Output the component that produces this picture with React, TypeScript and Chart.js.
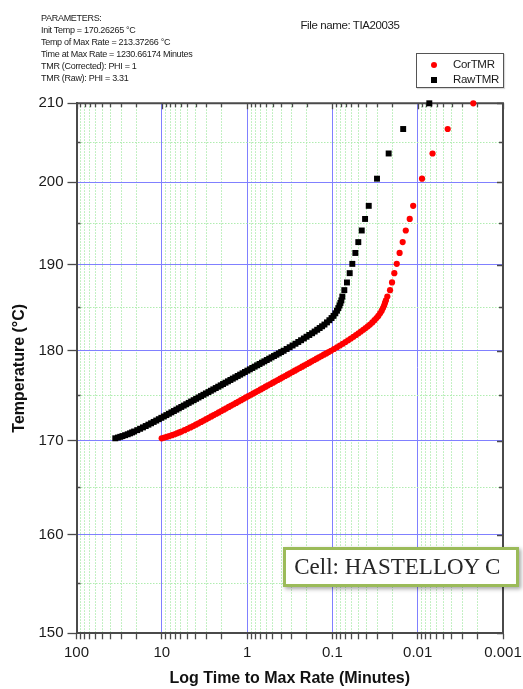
import React, { useEffect, useRef } from 'react';
import { Chart, registerables } from 'chart.js';

Chart.register(...registerables);

// ---- data ----
const temperatures = [
  170.26, 170.34, 170.42, 170.5, 170.6, 170.7, 170.8, 170.9, 171.0,
  171.15, 171.3, 171.45, 171.6, 171.75, 171.9, 172.05, 172.2, 172.35, 172.5,
  172.65, 172.8, 172.95, 173.1, 173.25, 173.4, 173.55, 173.7, 173.85, 174.0,
  174.15, 174.3, 174.45, 174.6, 174.75, 174.9, 175.05, 175.2, 175.35, 175.5,
  175.65, 175.8, 175.95, 176.1, 176.25, 176.4, 176.55, 176.7, 176.85, 177.0,
  177.15, 177.3, 177.45, 177.6, 177.75, 177.9, 178.05, 178.2, 178.35, 178.5,
  178.65, 178.8, 178.95, 179.1, 179.25, 179.4, 179.55, 179.7, 179.85, 180.0,
  180.2, 180.4, 180.6, 180.8, 181.0, 181.2, 181.4, 181.6, 181.8, 182.0,
  182.2, 182.4, 182.6, 182.8, 183.0, 183.25, 183.5, 183.75, 184.0, 184.3,
  184.6, 184.9, 185.2, 185.5, 185.8,
  186.24, 187, 187.9, 189, 190.1, 191.4, 192.7, 194.1, 195.5, 197.1, 200.45, 203.6, 206.7, 210,
];

const corTMR = [
  10.03, 9.322, 8.71, 8.175, 7.591, 7.083, 6.634, 6.237, 5.882,
  5.405, 4.99, 4.619, 4.288, 3.987, 3.712, 3.459, 3.227, 3.012, 2.813,
  2.628, 2.456, 2.295, 2.145, 2.006, 1.876, 1.755, 1.641, 1.535, 1.436,
  1.344, 1.257, 1.176, 1.1005, 1.03, 0.9637, 0.9018, 0.8441, 0.79, 0.7395,
  0.6922, 0.6478, 0.6065, 0.5677, 0.5314, 0.4975, 0.4658, 0.4361, 0.4085, 0.3825,
  0.3581, 0.3354, 0.3141, 0.2942, 0.2756, 0.2581, 0.2416, 0.2264, 0.2121, 0.1987,
  0.1862, 0.1744, 0.1634, 0.1531, 0.1435, 0.1344, 0.126, 0.1181, 0.1107, 0.1037,
  0.09577, 0.08831, 0.08166, 0.07561, 0.07021, 0.06527, 0.06077, 0.05664, 0.05287, 0.04943,
  0.04635, 0.04343, 0.04081, 0.0384, 0.03624, 0.03405, 0.03209, 0.03041, 0.02896, 0.02759,
  0.02642, 0.02551, 0.02477, 0.02418, 0.0236,
  0.0227, 0.0211, 0.02, 0.0188, 0.0176, 0.0163, 0.015, 0.0138, 0.0124, 0.0113, 0.0089, 0.0067, 0.00445, 0.00223,
];

const rawTMR = [
  35.1, 32.7, 30.7, 28.9, 26.9, 25.1, 23.6, 22.3, 21.1,
  19.4, 17.96, 16.63, 15.44, 14.35, 13.36, 12.45, 11.62, 10.84, 10.13,
  9.46, 8.84, 8.26, 7.72, 7.22, 6.75, 6.32, 5.91, 5.53, 5.17,
  4.84, 4.53, 4.23, 3.96, 3.71, 3.47, 3.25, 3.04, 2.84, 2.66,
  2.49, 2.33, 2.18, 2.04, 1.913, 1.791, 1.677, 1.57, 1.471, 1.377,
  1.289, 1.207, 1.131, 1.059, 0.992, 0.929, 0.87, 0.815, 0.764, 0.715,
  0.67, 0.628, 0.588, 0.551, 0.517, 0.484, 0.454, 0.425, 0.399, 0.373,
  0.344, 0.317, 0.293, 0.271, 0.251, 0.233, 0.216, 0.201, 0.1866, 0.173,
  0.1615, 0.1507, 0.141, 0.1321, 0.1239, 0.1158, 0.1085, 0.1023, 0.097, 0.0924,
  0.0884, 0.0852, 0.0826, 0.0805, 0.0785,
  0.0765, 0.0725, 0.0675, 0.0627, 0.0584, 0.0538, 0.0497, 0.0453, 0.0414, 0.0375, 0.03, 0.0219, 0.0148, 0.00731,
];

const seriesLabels = ['CorTMR', 'RawTMR'];
const seriesColors = ['#ff0000', '#000000'];

const xDecades = [-3, -2, -1, 0, 1];
const xMultipliers = [1, 2, 3, 4, 5, 6, 7, 8, 9];
const xMin = 0.001;
const xMax = 100;

const yTickTemps = [150, 155, 160, 165, 170, 175, 180, 185, 190, 195, 200, 205, 210];
const yMajorStep = 10;

const parameterLines = [
  'PARAMETERS:',
  'Init Temp = 170.26265 °C',
  'Temp of Max Rate = 213.37266 °C',
  'Time at Max Rate = 1230.66174 Minutes',
  'TMR (Corrected): PHI = 1',
  'TMR (Raw): PHI = 3.31',
];
const fileNameText = 'File name: TIA20035';
const cellText = 'Cell: HASTELLOY C';

// y axis is drawn on a -1/T (Kelvin) scale
const toY = (T: number) => -1000 / (T + 273.15);
const fromY = (v: number) => -1000 / v - 273.15;

const isDecade = (v: number) => Math.abs(Math.log10(v) - Math.round(Math.log10(v))) < 1e-9;

const xTickValues: number[] = [];
xDecades.forEach((k) => xMultipliers.forEach((m) => xTickValues.push(Number((m * Math.pow(10, k)).toPrecision(3)))));
xTickValues.push(xMax);

const BLUE = 'rgb(128,128,255)';
const GREEN = 'rgb(176,236,176)';
const AXIS = '#4a4a4a';
const SANS = '"Liberation Sans", Arial, Helvetica, sans-serif';

const framePlugin = {
  id: 'frameTicks',
  beforeDatasetsDraw(chart: any) {
    const { ctx, chartArea: a, scales } = chart;
    const xs = scales.x;
    const ys = scales.y;
    ctx.save();
    ctx.strokeStyle = AXIS;
    ctx.lineWidth = 2;
    ctx.beginPath();
    ctx.moveTo(a.left, a.top);
    ctx.lineTo(a.right, a.top);
    ctx.lineTo(a.right, a.bottom);
    ctx.stroke();
    ctx.lineWidth = 1.3;
    ctx.beginPath();
    xs.ticks.forEach((t: any) => {
      const px = Math.round(xs.getPixelForValue(t.value)) + 0.5;
      const len = t.major ? 6 : 4;
      ctx.moveTo(px, a.top);
      ctx.lineTo(px, a.top + len);
    });
    ys.ticks.forEach((t: any) => {
      const py = Math.round(ys.getPixelForValue(t.value)) + 0.5;
      const len = t.major ? 6 : 4;
      ctx.moveTo(a.right - len, py);
      ctx.lineTo(a.right, py);
      if (!t.major) {
        ctx.moveTo(a.left, py);
        ctx.lineTo(a.left + 4, py);
      }
    });
    ctx.stroke();
    ctx.restore();
  },
};

export default function App() {
  const ref = useRef<HTMLCanvasElement>(null);

  useEffect(() => {
    document.body.style.margin = '0';
    const seriesValues = [corTMR, rawTMR];
    const chart = new Chart(ref.current as HTMLCanvasElement, {
      type: 'scatter',
      data: {
        datasets: seriesValues.map((vals, si) => ({
          label: seriesLabels[si],
          data: temperatures.map((T, i) => ({ x: vals[i], y: toY(T) })),
          pointStyle: si === 0 ? 'circle' : 'rect',
          pointRadius: si === 0 ? 3.1 : 4.2,
          pointBackgroundColor: seriesColors[si],
          pointBorderColor: seriesColors[si],
          pointBorderWidth: 0,
          showLine: false,
          clip: false,
        })),
      },
      options: {
        animation: false,
        responsive: false,
        devicePixelRatio: 1,
        layout: { padding: { left: 0, right: 20, top: 103.3, bottom: 0 } },
        plugins: { legend: { display: false }, tooltip: { enabled: false } },
        scales: {
          x: {
            type: 'logarithmic',
            position: 'bottom',
            reverse: true,
            min: xMin,
            max: xMax,
            afterBuildTicks: (scale: any) => {
              scale.ticks = xTickValues.map((v) => ({ value: v, major: isDecade(v) }));
            },
            afterFit: (scale: any) => {
              scale.height = 55.7;
            },
            ticks: {
              autoSkip: false,
              maxRotation: 0,
              padding: 5,
              color: '#1a1a1a',
              font: { family: SANS, size: 15 },
              callback: (value: any) => (isDecade(Number(value)) ? String(Number(value)) : ''),
            },
            grid: {
              color: (c: any) => (c.tick && c.tick.major ? BLUE : GREEN),
              lineWidth: 1,
              tickLength: 6,
              tickColor: AXIS,
              tickWidth: 1.3,
            },
            border: {
              display: true,
              color: AXIS,
              width: 2,
              dash: (c: any) => (c.tick && !c.tick.major ? [1.5, 1.5] : []),
            },
            title: {
              display: true,
              text: 'Log Time to Max Rate (Minutes)',
              color: '#111',
              font: { family: SANS, size: 16, weight: 'bold' },
              padding: { top: 0, bottom: 1 },
            },
          },
          y: {
            type: 'linear',
            position: 'left',
            min: toY(yTickTemps[0]),
            max: toY(yTickTemps[yTickTemps.length - 1]),
            afterBuildTicks: (scale: any) => {
              scale.ticks = yTickTemps.map((T) => ({ value: toY(T), major: T % yMajorStep === 0 }));
            },
            afterFit: (scale: any) => {
              scale.width = 76.5;
            },
            ticks: {
              autoSkip: false,
              padding: 4,
              color: '#1a1a1a',
              font: { family: SANS, size: 15 },
              callback: (value: any) => {
                const T = Math.round(fromY(Number(value)));
                return T % yMajorStep === 0 ? String(T) : '';
              },
            },
            grid: {
              color: (c: any) => (c.tick && c.tick.major ? BLUE : GREEN),
              lineWidth: 1,
              tickLength: 9,
              tickColor: (c: any) => (c.tick && c.tick.major ? AXIS : 'rgba(0,0,0,0)'),
              tickWidth: 1.3,
            },
            border: {
              display: true,
              color: AXIS,
              width: 2,
              dash: (c: any) => (c.tick && !c.tick.major ? [1.5, 1.5] : []),
            },
            title: {
              display: true,
              text: 'Temperature (°C)',
              color: '#111',
              font: { family: SANS, size: 16, weight: 'bold' },
              padding: { top: 10, bottom: 0 },
            },
          },
        },
      } as any,
      plugins: [framePlugin],
    });
    return () => chart.destroy();
  }, []);

  return (
    <div style={{ position: 'absolute', left: 0, top: 0, width: 523, height: 689, background: '#fff', fontFamily: SANS, color: '#1a1a1a' }}>
      <canvas ref={ref} width={523} height={689} style={{ position: 'absolute', left: 0, top: 0 }} />
      <div style={{ position: 'absolute', left: 41, top: 11.5, fontSize: 9, lineHeight: '12px', letterSpacing: '-0.3px', whiteSpace: 'nowrap' }}>
        {parameterLines.map((l, i) => (
          <div key={i}>{l}</div>
        ))}
      </div>
      <div style={{ position: 'absolute', left: 300.5, top: 18, fontSize: 11.5, lineHeight: '14px', letterSpacing: '-0.4px', whiteSpace: 'nowrap' }}>
        {fileNameText}
      </div>
      <div style={{ position: 'absolute', left: 416, top: 53, width: 86, height: 33, border: '1.5px solid #555', background: '#fff', boxShadow: '1px 1px 1px rgba(0,0,0,0.15)' }}>
        {seriesLabels.map((lab, i) => (
          <div key={lab} style={{ position: 'absolute', left: 0, top: 3 + i * 15, height: 15, width: 86 }}>
            <div style={{ position: 'absolute', left: 14, top: 4.5, width: 6, height: 6, background: seriesColors[i], borderRadius: i === 0 ? '50%' : 0 }} />
            <div style={{ position: 'absolute', left: 36, top: 0, fontSize: 11.5, lineHeight: '15px', letterSpacing: '-0.3px', whiteSpace: 'nowrap' }}>{lab}</div>
          </div>
        ))}
      </div>
      <div style={{ position: 'absolute', left: 282.7, top: 546.7, width: 236.6, height: 40.6, boxSizing: 'border-box', border: '3px solid #9bbb59', background: '#fff', boxShadow: '2px 2px 4px rgba(0,0,0,0.35)', display: 'flex', alignItems: 'center', paddingLeft: 8.6, fontFamily: '"Liberation Serif", "Times New Roman", serif', fontSize: 23, color: '#262626', whiteSpace: 'nowrap' }}>
        {cellText}
      </div>
    </div>
  );
}
